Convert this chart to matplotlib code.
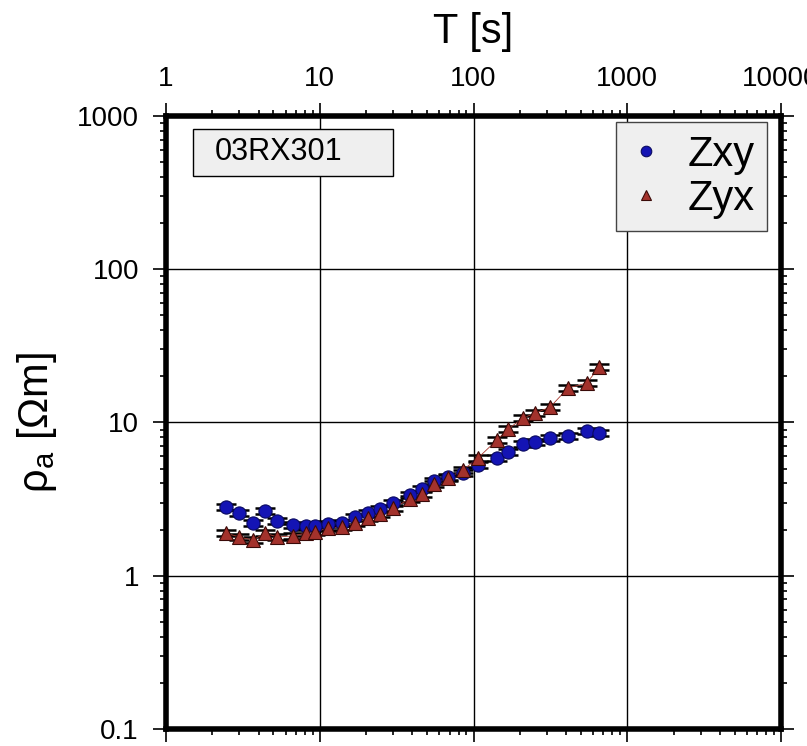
import matplotlib
matplotlib.use("Agg")
import matplotlib.pyplot as plt
from matplotlib.patches import Rectangle
from matplotlib.ticker import LogLocator, FuncFormatter, NullFormatter

plt.rcParams['font.family'] = ['Liberation Sans', 'DejaVu Sans']
plt.rcParams['mathtext.fontset'] = 'custom'
plt.rcParams['mathtext.rm'] = 'Liberation Sans'
plt.rcParams['mathtext.it'] = 'Liberation Sans:italic'

# periods [s] and apparent resistivity [ohm m]
period = [2.46, 2.99, 3.68, 4.41, 5.27, 6.70, 8.14, 9.31, 11.3, 13.9,
          17.0, 20.6, 24.7, 30.0, 38.6, 46.2, 55.4, 68.3, 85.5, 107.0,
          142.0, 168.0, 210.0, 251.0, 315.0, 412.0, 547.0, 655.0]
rho_xy = [2.81, 2.57, 2.21, 2.65, 2.28, 2.14, 2.11, 2.11, 2.18, 2.21,
          2.42, 2.57, 2.73, 2.98, 3.36, 3.68, 4.15, 4.41, 4.68, 5.28,
          5.87, 6.42, 7.24, 7.46, 7.92, 8.17, 8.80, 8.54]
rho_yx = [1.90, 1.79, 1.71, 1.90, 1.79, 1.82, 1.90, 1.93, 2.05, 2.08,
          2.21, 2.38, 2.53, 2.77, 3.17, 3.42, 3.97, 4.34, 4.90, 5.87,
          7.69, 9.07, 10.7, 11.5, 12.6, 16.8, 18.1, 23.0]
rel_err = 0.05

station = '03RX301'
x_ticks = [1, 10, 100, 1000, 10000]
y_ticks = [0.1, 1, 10, 100, 1000]

fig = plt.figure(figsize=(8.07, 7.46), dpi=100)
ax = fig.add_axes([0.2057, 0.0228, 0.7621, 0.8217])
ax.set_xscale('log')
ax.set_yscale('log')
ax.set_xlim(1, 10000)
ax.set_ylim(0.1, 1000)

# error bars first, markers on top
for rho in (rho_xy, rho_yx):
    lo = [r - r / (1 + rel_err) for r in rho]
    hi = [r * rel_err for r in rho]
    ax.errorbar(period, rho, yerr=[lo, hi], fmt='none', ecolor='black',
                elinewidth=1.0, capsize=7, capthick=1.8, zorder=3)

ax.plot(period, rho_yx, color='#a83a30', lw=0.6, zorder=3)
h_xy, = ax.plot(period, rho_xy, 'o', ms=9.5, mfc='#1414b4', mec='#0a0a60',
                mew=0.8, label='Zxy', zorder=4)
h_yx, = ax.plot(period, rho_yx, '^', ms=9.5, mfc='#a3322c', mec='#3a0a08',
                mew=0.8, label='Zyx', zorder=5)

ax.grid(True, which='major', color='black', linewidth=1.0, zorder=1)
ax.set_axisbelow(True)

fmt = FuncFormatter(lambda v, _: f'{v:g}')
ax.set_xticks(x_ticks)
ax.set_yticks(y_ticks)
ax.xaxis.set_major_formatter(fmt)
ax.yaxis.set_major_formatter(fmt)
ax.xaxis.set_minor_locator(LogLocator(base=10, subs=range(2, 10)))
ax.yaxis.set_minor_locator(LogLocator(base=10, subs=range(2, 10)))
ax.xaxis.set_minor_formatter(NullFormatter())
ax.yaxis.set_minor_formatter(NullFormatter())
ax.tick_params(which='both', direction='out', top=True, right=True,
               bottom=True, left=True, labeltop=True, labelbottom=False,
               labelleft=True, labelright=False, width=1.2)
ax.tick_params(which='major', length=9.5, labelsize=20)
ax.tick_params(axis='x', which='major', pad=8)
ax.tick_params(axis='y', which='major', pad=10)
ax.tick_params(which='minor', length=4.5)

for s in ax.spines.values():
    s.set_linewidth(4)
    s.set_zorder(10)

ax.xaxis.set_label_position('top')
ax.set_xlabel('T [s]', fontsize=30, va='center')
ax.xaxis.set_label_coords(0.5, 1.137)
ax.set_ylabel(r'$\mathregular{\rho_a}$ [Ωm]', fontsize=30, va='center')
ax.yaxis.set_label_coords(-0.21, 0.5)

# station name box
ax.add_patch(Rectangle((0.044, 0.902), 0.325, 0.077, transform=ax.transAxes,
                       facecolor='#efefef', edgecolor='black', lw=1.0,
                       zorder=6))
ax.text(0.08, 0.9405, station, transform=ax.transAxes, fontsize=22,
        ha='left', va='center', zorder=7)

leg = ax.legend(handles=[h_xy, h_yx], loc='upper right',
                bbox_to_anchor=(0.977, 0.990), borderaxespad=0,
                fontsize=30, fancybox=False, framealpha=1,
                facecolor='#efefef', edgecolor='#444444',
                handlelength=0.8, handletextpad=0.6, markerscale=0.8,
                borderpad=0.3, labelspacing=0.1)
leg.get_frame().set_linewidth(1.0)
leg.set_zorder(8)

fig.savefig('out.png', dpi=100)
